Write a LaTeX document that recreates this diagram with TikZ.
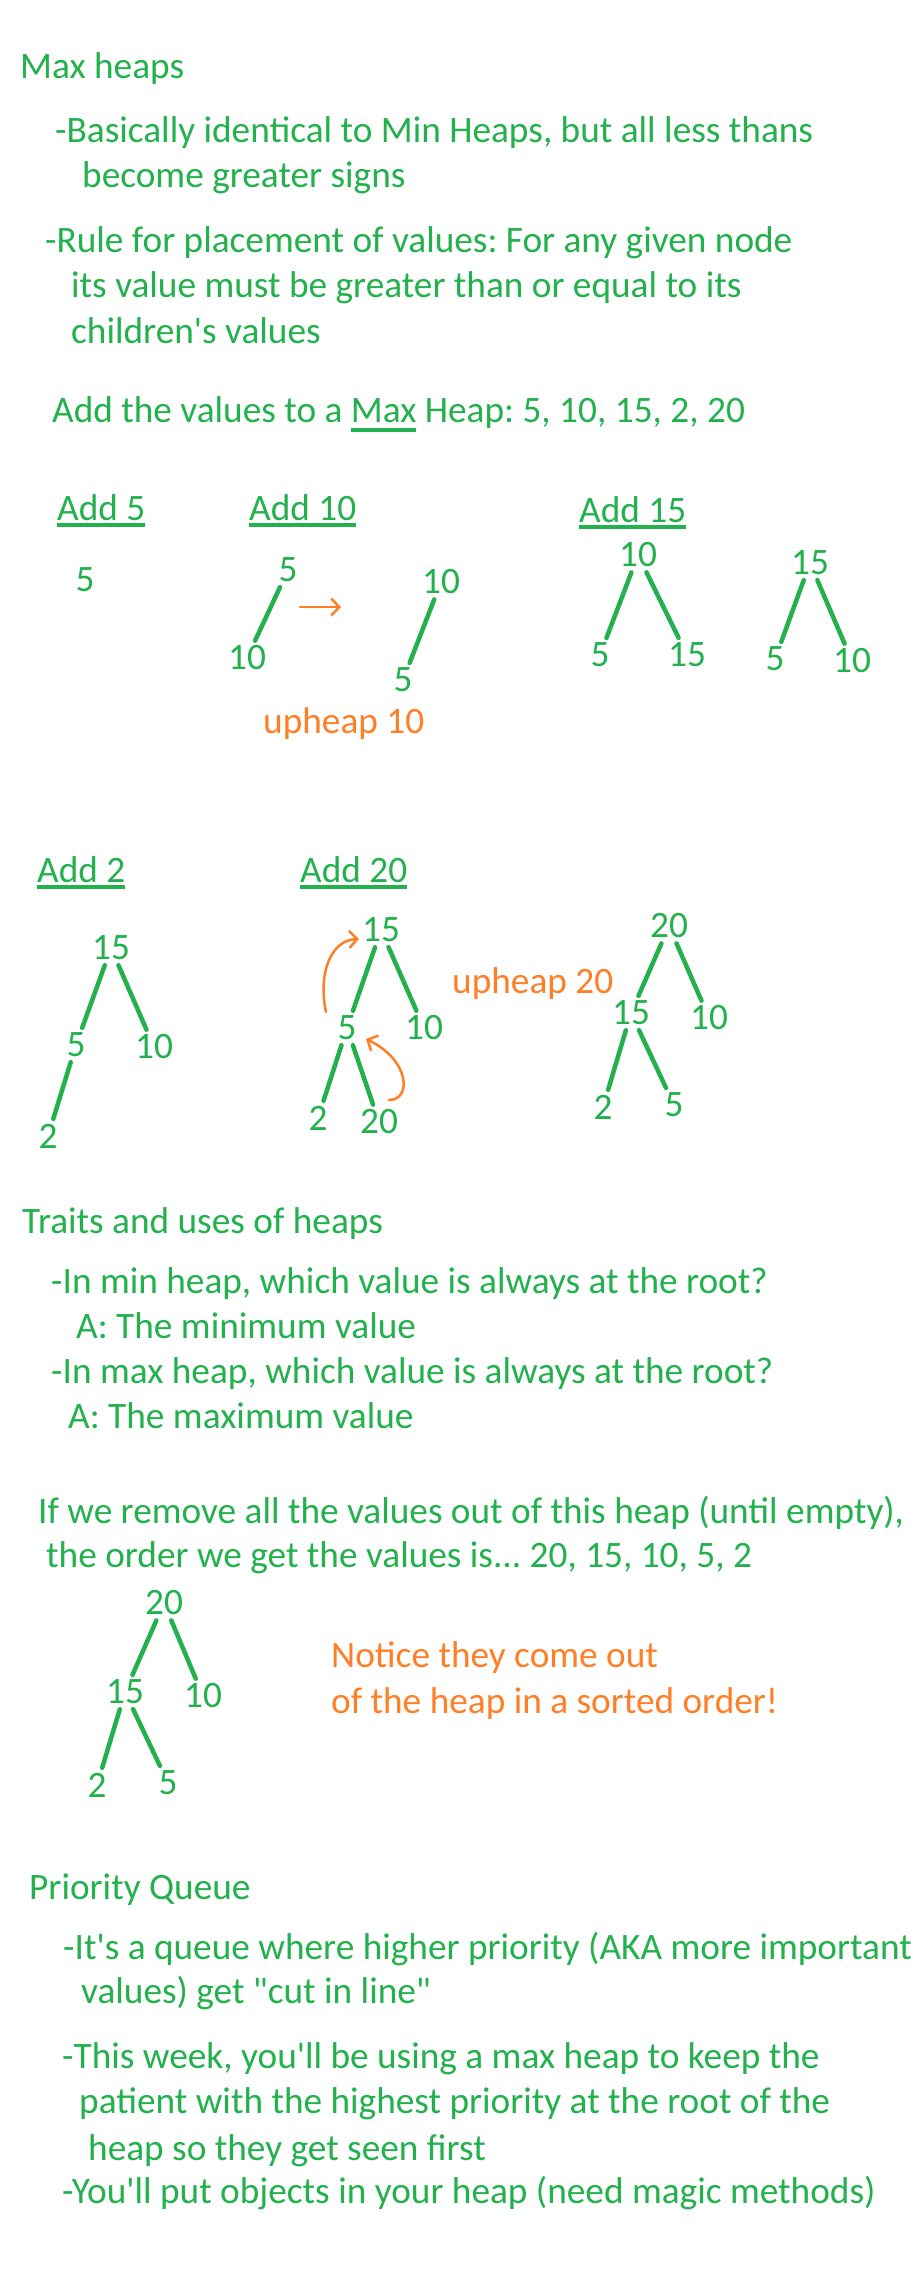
\documentclass[tikz,border=0pt]{standalone}
\usepackage{fontspec}
\setmainfont{Carlito}[Ligatures=TeXOff]
\usetikzlibrary{arrows.meta}
\definecolor{pen}{HTML}{22B14C}
\definecolor{hl}{HTML}{FF7F27}
\frenchspacing
% underline drawn as a thick pen stroke below the text
\newcommand{\penul}[2][6.5]{\setbox0\hbox{#2}\rlap{\rule[-#1pt]{\wd0}{3.5pt}}\box0\relax}
\tikzset{
  every node/.style={font=\fontsize{37.3}{44}\selectfont, text=pen, inner sep=0pt},
  txt/.style={anchor=base west},
  note/.style={anchor=base west, text=hl},
  num/.style={inner sep=4pt},
  edge/.style={draw=pen, line width=4.5pt, line cap=round, shorten >=1pt, shorten <=1pt},
  hlarrow/.style={draw=hl, line width=2.5pt, line cap=round, line join=round,
               -{Straight Barb[length=8pt,width=17pt,line width=2.5pt]}}
}
\begin{document}
\begin{tikzpicture}[x=1pt,y=-1pt]
\fill[white] (0,0) rectangle (920,2279);
\useasboundingbox (0,0) rectangle (920,2279);

% ---- Max heaps ----
\node[txt] (t1) at (20,78) {Max heaps};
\node[txt] (t2) at (55,142) {-Basically identical to Min Heaps, but all less thans};
\node[txt] (t3) at (82,187) {become greater signs};
\node[txt] (t4) at (45,252) {-Rule for placement of values: For any given node};
\node[txt] (t5) at (71,297) {its value must be greater than or equal to its};
\node[txt] (t6) at (71,343) {children's values};
\node[txt] (t7) at (52,422) {Add the values to a \penul[9.5]{Max} Heap: 5, 10, 15, 2, 20};

% ---- Add 5 ----
\node[txt] (h5) at (57,520) {\penul{Add 5}};
\node[num] (a5) at (85,580) {5};

% ---- Add 10 ----
\node[txt] (h10) at (249,520) {\penul{Add 10}};
\node[num] (b1r) at (288,570) {5};
\node[num] (b1c) at (247,658) {10};
\draw[edge] (b1r) -- (b1c);
\coordinate (sw1) at (300,607);
\coordinate (sw2) at (341,607);
\draw[hlarrow] (sw1) -- (sw2);
\node[num] (b2r) at (441,582) {10};
\node[num] (b2c) at (403,680) {5};
\draw[edge] (b2r) -- (b2c);
\node[note] (up10) at (263,733) {upheap 10};

% ---- Add 15 ----
\node[txt] (h15) at (579,522) {\penul{Add 15}};
\node[num] (c1r) at (638,555) {10};
\node[num] (c1a) at (600,655) {5};
\node[num] (c1b) at (687,655) {15};
\draw[edge] (c1r) -- (c1a);
\draw[edge] (c1r) -- (c1b);
\node[num] (c2r) at (810,563) {15};
\node[num] (c2a) at (775,659) {5};
\node[num] (c2b) at (852,661) {10};
\draw[edge] (c2r) -- (c2a);
\draw[edge] (c2r) -- (c2b);

% ---- Add 2 ----
\node[txt] (h2) at (37,882) {\penul{Add 2}};
\node[num] (d15) at (111,948) {15};
\node[num] (d5) at (76,1045) {5};
\node[num] (d10) at (154,1047) {10};
\node[num] (d2) at (48,1136) {2};
\draw[edge] (d15) -- (d5);
\draw[edge] (d15) -- (d10);
\draw[edge] (d5) -- (d2);

% ---- Add 20 ----
\node[txt] (h20) at (300,882) {\penul{Add 20}};
\node[num] (e15) at (381,930) {15};
\node[num] (e5) at (347,1028) {5};
\node[num] (e10) at (424,1028) {10};
\node[num] (e2) at (318,1118) {2};
\node[num] (e20) at (379,1122) {20};
\draw[edge] (e15) -- (e5);
\draw[edge] (e15) -- (e10);
\draw[edge] (e5) -- (e2);
\draw[edge] (e5) -- (e20);
\coordinate (ua1) at (326,1012);
\coordinate (ua2) at (359,939);
\draw[hlarrow] (ua1) .. controls (318,975) and (330,940) .. (ua2);
\coordinate (ub1) at (389,1100);
\coordinate (ub2) at (366,1039);
\draw[hlarrow] (ub1) .. controls (412,1100) and (410,1060) .. (ub2);
\node[note] (up20) at (452,993) {upheap 20};
\node[num] (f20) at (669,926) {20};
\node[num] (f15) at (631,1013) {15};
\node[num] (f10) at (709,1018) {10};
\node[num] (f2) at (603,1107) {2};
\node[num] (f5) at (674,1105) {5};
\draw[edge] (f20) -- (f15);
\draw[edge] (f20) -- (f10);
\draw[edge] (f15) -- (f2);
\draw[edge] (f15) -- (f5);

% ---- Traits and uses ----
\node[txt] (s1) at (22,1233) {Traits and uses of heaps};
\node[txt] (s2) at (51,1293) {-In min heap, which value is always at the root?};
\node[txt] (s3) at (76,1338) {A: The minimum value};
\node[txt] (s4) at (51,1383) {-In max heap, which value is always at the root?};
\node[txt] (s5) at (68,1428) {A: The maximum value};
\node[txt] (s6) at (38,1523) {If we remove all the values out of this heap (until empty),};
\node[txt] (s7) at (46,1567) {the order we get the values is... 20, 15, 10, 5, 2};

\node[num] (g20) at (164,1603) {20};
\node[num] (g15) at (125,1692) {15};
\node[num] (g10) at (203,1696) {10};
\node[num] (g2) at (97,1785) {2};
\node[num] (g5) at (168,1783) {5};
\draw[edge] (g20) -- (g15);
\draw[edge] (g20) -- (g10);
\draw[edge] (g15) -- (g2);
\draw[edge] (g15) -- (g5);
\node[note] (n1) at (331,1667) {Notice they come out};
\node[note] (n2) at (331,1713) {of the heap in a sorted order!};

% ---- Priority Queue ----
\node[txt] (p1) at (29,1899) {Priority Queue};
\node[txt] (p2) at (63,1959) {-It's a queue where higher priority (AKA more important};
\node[txt] (p3) at (81,2003) {values) get "cut in line"};
\node[txt] (p4) at (62,2068) {-This week, you'll be using a max heap to keep the};
\node[txt] (p5) at (79,2113) {patient with the highest priority at the root of the};
\node[txt] (p6) at (88,2160) {heap so they get seen first};
\node[txt] (p7) at (62,2203) {-You'll put objects in your heap (need magic methods)};
\end{tikzpicture}
\end{document}
